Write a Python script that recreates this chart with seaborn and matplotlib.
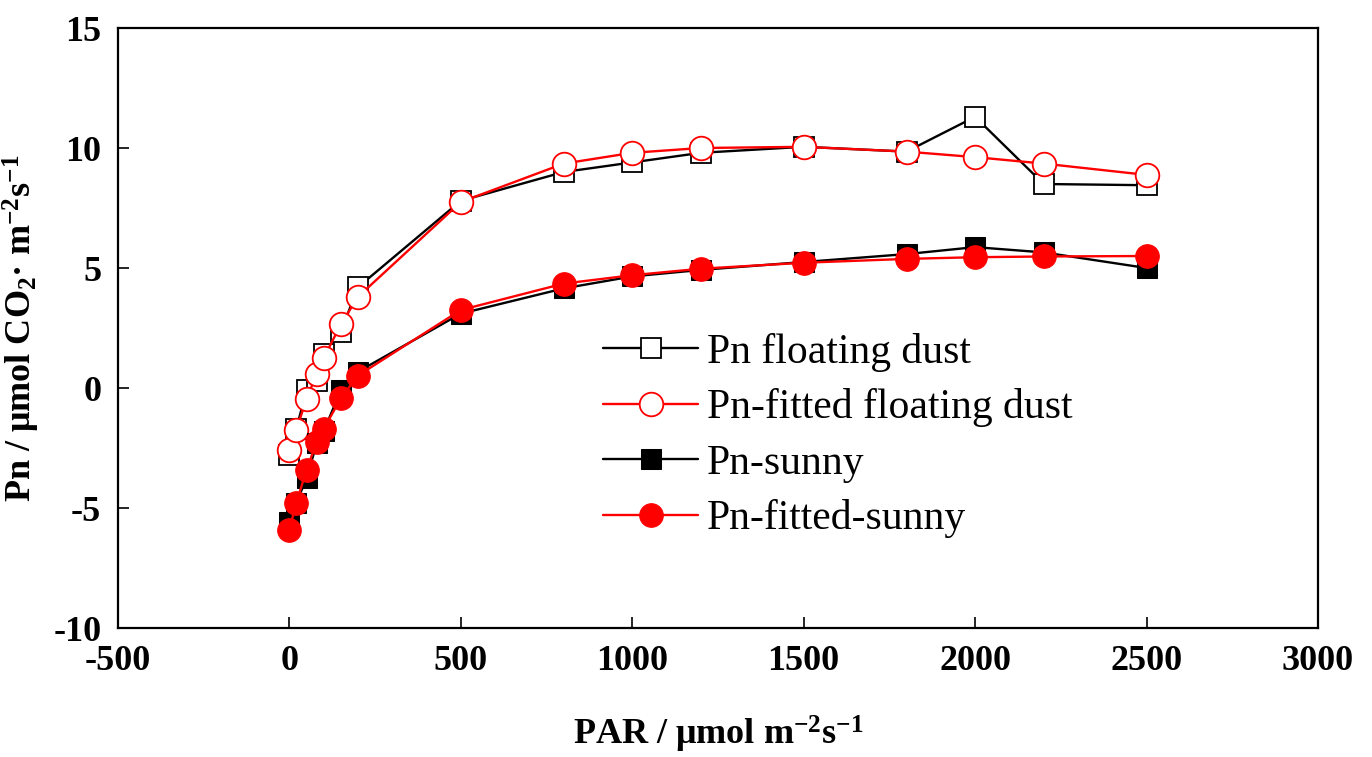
import pandas as pd
import seaborn as sns
import matplotlib.pyplot as plt

par = [0, 20, 50, 80, 100, 150, 200, 500, 800, 1000, 1200, 1500, 1800, 2000, 2200, 2500]

pn_dust = [-2.8, -1.7, -0.1, 0.3, 1.4, 2.35, 4.2, 7.8, 9.0, 9.4, 9.8, 10.05, 9.85, 11.3, 8.5, 8.45]
pn_dust_fit = [-2.6, -1.75, -0.45, 0.6, 1.25, 2.65, 3.8, 7.75, 9.35, 9.8, 10.0, 10.05, 9.85, 9.62, 9.35, 8.88]
pn_sunny = [-5.6, -4.8, -3.75, -2.3, -1.8, -0.1, 0.68, 3.1, 4.15, 4.65, 4.92, 5.25, 5.58, 5.87, 5.65, 5.0]
pn_sunny_fit = [-5.9, -4.8, -3.4, -2.25, -1.7, -0.43, 0.52, 3.25, 4.35, 4.7, 4.97, 5.22, 5.38, 5.45, 5.48, 5.5]

labels = ['Pn floating dust', 'Pn-fitted floating dust', 'Pn-sunny', 'Pn-fitted-sunny']

sns.set_style('ticks')
plt.rcParams['font.family'] = ['Liberation Serif', 'DejaVu Serif']
plt.rcParams['mathtext.fontset'] = 'custom'
plt.rcParams['mathtext.rm'] = 'Liberation Serif'
plt.rcParams['mathtext.bf'] = 'Liberation Serif:bold'
plt.rcParams['mathtext.default'] = 'bf'
plt.rcParams['axes.unicode_minus'] = False
for k in ['text.color', 'axes.labelcolor', 'xtick.color', 'ytick.color']:
    plt.rcParams[k] = 'black'

fig = plt.figure(figsize=(13.72, 7.57), dpi=100)
ax = fig.add_axes([0.086, 0.1704, 0.8746, 0.7926])

df = pd.DataFrame({'PAR': par, 'dust': pn_dust, 'dust_fit': pn_dust_fit,
                   'sunny': pn_sunny, 'sunny_fit': pn_sunny_fit})

# open squares / open circles / filled squares / filled circles
sns.lineplot(data=df, x='PAR', y='dust', ax=ax, color='black', lw=1.7,
             marker='s', markersize=14, markerfacecolor='white',
             markeredgecolor='black', markeredgewidth=1.3, label=labels[0])
sns.lineplot(data=df, x='PAR', y='dust_fit', ax=ax, color='red', lw=1.7,
             marker='o', markersize=17, markerfacecolor='white',
             markeredgecolor='red', markeredgewidth=1.3, label=labels[1])
sns.lineplot(data=df, x='PAR', y='sunny', ax=ax, color='black', lw=1.7,
             marker='s', markersize=14, markerfacecolor='black',
             markeredgecolor='black', label=labels[2])
sns.lineplot(data=df, x='PAR', y='sunny_fit', ax=ax, color='red', lw=1.7,
             marker='o', markersize=17, markerfacecolor='red',
             markeredgecolor='red', label=labels[3])

ax.set_xlim(-500, 3000)
ax.set_ylim(-10, 15)
ax.set_xticks(range(-500, 3001, 500))
ax.set_yticks(range(-10, 16, 5))
ax.tick_params(direction='in', length=8, width=1.2, labelsize=26, pad=12)
for lab in ax.get_xticklabels() + ax.get_yticklabels():
    lab.set_fontweight('bold')
for s in ax.spines.values():
    s.set_visible(True)
    s.set_linewidth(1.6)
    s.set_color('black')

ax.set_xlabel('PAR / μmol m$^{-2}$s$^{-1}$', fontsize=26, fontweight='bold', labelpad=26)
ax.set_ylabel('Pn / μmol CO$_2$· m$^{-2}$s$^{-1}$', fontsize=26, fontweight='bold', labelpad=8)

ax.legend(loc='upper left', bbox_to_anchor=(0.39, 0.52), frameon=False,
          fontsize=30, handlelength=2.3, labelspacing=0.4, handletextpad=0.2,
          borderaxespad=0)

fig.savefig('out.png', dpi=100)
